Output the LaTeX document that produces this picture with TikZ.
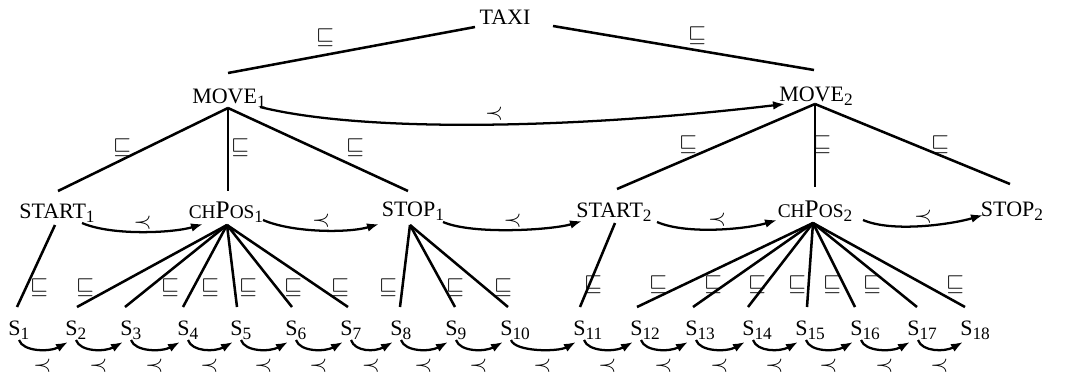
\documentclass[tikz,border=0pt]{standalone}
\usepackage{fontspec}
\setmainfont{Liberation Serif}
\usetikzlibrary{arrows.meta,calc}
\newcommand\subn[1]{\raisebox{-0.4ex}{\fontsize{13}{13}\selectfont #1}}
\newcommand\chp{{\fontsize{14.5}{14}\selectfont CH}{\fontsize{19}{19}\selectfont P}{\fontsize{14.5}{14}\selectfont OS}}
\begin{document}
\begin{tikzpicture}[x=0.75pt,y=-0.75pt,
  txt/.style={font=\fontsize{16.5}{19}\selectfont, inner sep=0pt},
  edge/.style={line width=1.9pt},
  arr/.style={line width=1.7pt,-{Latex[length=9pt,width=6.5pt]}},
  sq/.style={font=\fontsize{19}{19}\selectfont, inner sep=0pt},
  pr/.style={font=\fontsize{19}{19}\selectfont, inner sep=0pt}]
\useasboundingbox (0,0) rectangle (1071,375);

% nodes
\node[txt] (taxi) at (505,17) {TAXI};
\node[txt] (move1) at (229,98) {MOVE\subn{1}};
\node[txt] (move2) at (816,96) {MOVE\subn{2}};
\node[txt] (start1) at (57,213) {START\subn{1}};
\node[txt] (chpos1) at (226,212) {\chp\subn{1}};
\node[txt] (stop1) at (413,211) {STOP\subn{1}};
\node[txt] (start2) at (614,212) {START\subn{2}};
\node[txt] (chpos2) at (815,211) {\chp\subn{2}};
\node[txt] (stop2) at (1012,211) {STOP\subn{2}};
\foreach \i/\x in {1/8,2/65,3/120,4/177,5/230,6/285,7/340,8/390,9/445,10/500,
                   11/573,12/630,13/685,14/742,15/795,16/850,17/907,18/960}
  \node[txt,anchor=west] (s\i) at (\x,330) {S\subn{\i}};

% tree edges
\draw[edge] ($(taxi)+(-30,10)$) -- ($(move1)+(-1,-25)$);
\draw[edge] ($(taxi)+(48,9)$) -- ($(move2)+(-2,-26)$);
\draw[edge] ($(move1)+(-1,10)$) -- ($(start1)+(1,-22)$);
\draw[edge] ($(move1)+(-1,10)$) -- ($(chpos1)+(2,-21)$);
\draw[edge] ($(move1)+(-1,10)$) -- ($(stop1)+(-5,-20)$);
\draw[edge] ($(move2)+(-1,8)$) -- ($(start2)+(3,-23)$);
\draw[edge] ($(move2)+(-1,8)$) -- ($(chpos2)+(0,-24)$);
\draw[edge] ($(move2)+(-1,8)$) -- ($(stop2)+(-2,-27)$);

\draw[edge] ($(start1)+(-2,12)$) -- ($(s1.west)+(9,-23)$);
\foreach \i/\dx in {2/12,3/5,4/6,5/7,6/7,7/8}
  \draw[edge] ($(chpos1)+(1,13)$) -- ($(s\i.west)+(\dx,-23)$);
\foreach \i/\dx in {8/10,9/10,10/8}
  \draw[edge] ($(stop1)+(-3,14)$) -- ($(s\i.west)+(\dx,-23)$);
\draw[edge] ($(start2)+(1,11)$) -- ($(s11.west)+(7,-23)$);
\foreach \i/\dx in {12/7,13/8,14/6,15/12,16/5,17/10,18/5}
  \draw[edge] ($(chpos2)+(-2,12)$) -- ($(s\i.west)+(\dx,-23)$);

% precedence arrows
\draw[arr] ($(move1)+(31,9)$) .. controls +(100,25) and +(-220,26) .. ($(move2)+(-31,8)$)
  node[pr,pos=0.53,yshift=8pt] (p0) {$\prec$};
\draw[arr] ($(start1)+(25,10)$) .. controls +(30,13) and +(-30,9) .. ($(chpos1)+(-23,12)$)
  node[pr,midway,yshift=7pt] (p1) {$\prec$};
\draw[arr] ($(chpos1)+(37,8)$) .. controls +(30,13) and +(-30,9) .. ($(stop1)+(-34,13)$)
  node[pr,midway,yshift=7pt] (p2) {$\prec$};
\draw[arr] ($(stop1)+(30,11)$) .. controls +(30,13) and +(-30,9) .. ($(start2)+(-32,9)$)
  node[pr,midway,yshift=7pt] (p3) {$\prec$};
\draw[arr] ($(start2)+(43,10)$) .. controls +(30,13) and +(-30,9) .. ($(chpos2)+(-38,9)$)
  node[pr,midway,yshift=7pt] (p4) {$\prec$};
\draw[arr] ($(chpos2)+(48,9)$) .. controls +(30,13) and +(-30,9) .. ($(stop2)+(-29,4)$)
  node[pr,midway,yshift=7pt] (p5) {$\prec$};

\foreach \i [evaluate=\i as \j using int(\i+1)] in {1,...,17}
  \draw[arr] ($(s\i.west)+(11,10)$) .. controls +(4,12) and +(-18,10) .. ($(s\j.west)+(3,12)$)
    node[pr,midway,yshift=-12pt,xshift=3pt] (ps\i) {$\prec$};

% containment labels
\foreach \n/\x/\y in {a/325/38,b/697/36,c/122/148,d/240/148,e/355/148,f/688/145,g/822/145,h/940/145,
  i/39/288,j/85/288,k/170/288,l/210/288,m/248/288,n/293/288,o/340/288,p/388/288,q/455/288,r/503/288,
  s/593/285,t/658/285,u/713/285,v/757/285,w/797/285,x/832/285,y/872/285,z/955/285}
  \node[sq] (q\n) at (\x,\y) {$\sqsubseteq$};
\end{tikzpicture}
\end{document}
